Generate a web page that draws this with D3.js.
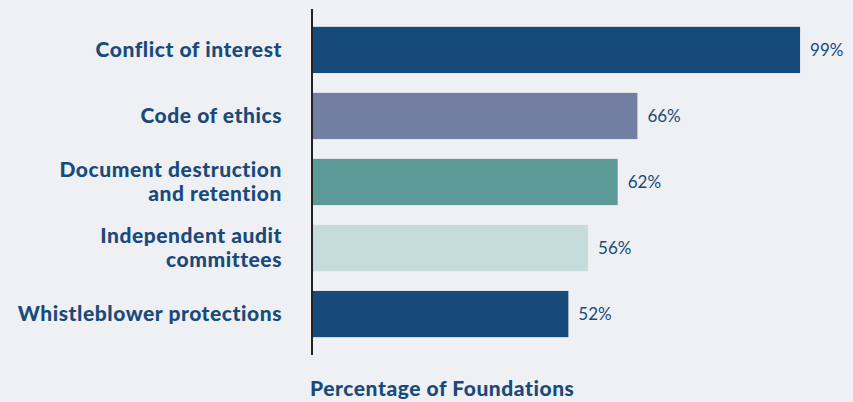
<!DOCTYPE html>
<html>
<head>
<meta charset="utf-8">
<script src="https://cdn.jsdelivr.net/npm/d3@7"></script>
<style>
  html, body { margin:0; padding:0; background:#eff0f4; }
  svg { display:block; font-family: Lato, "Open Sans", sans-serif; }
</style>
</head>
<body>
<svg id="chart" width="853" height="402"></svg>
<script>
var categories = [
  ["Conflict of interest"],
  ["Code of ethics"],
  ["Document destruction", "and retention"],
  ["Independent audit", "committees"],
  ["Whistleblower protections"]
];
var values = [99, 66, 62, 56, 52];
var colors = ["#164a7a", "#737ea3", "#5b9a96", "#c6dbdb", "#164a7a"];
var axisTitle = "Percentage of Foundations";

var svg = d3.select("#chart");
var textColor = "#1a4a7a";
var left = 312;

var x = d3.scaleLinear().domain([0, 100]).range([left, 805]);
var y = d3.scaleBand()
  .domain(d3.range(values.length))
  .range([9, 355])
  .paddingInner(0.3)
  .paddingOuter(0.27);

var rows = svg.append("g").selectAll("g")
  .data(values)
  .enter().append("g");

rows.append("rect")
  .attr("x", x(0))
  .attr("y", function(d, i) { return y(i); })
  .attr("width", function(d) { return x(d) - x(0); })
  .attr("height", y.bandwidth())
  .attr("fill", function(d, i) { return colors[i]; });

rows.append("text")
  .text(function(d) { return d + "%"; })
  .attr("x", function(d) { return x(d) + 10; })
  .attr("y", function(d, i) { return y(i) + y.bandwidth() / 2; })
  .attr("dy", "0.35em")
  .attr("font-size", "17px")
  .attr("fill", textColor);

//category labels, one or two lines
var labels = svg.append("g").selectAll("text")
  .data(categories)
  .enter().append("text")
  .attr("text-anchor", "end")
  .attr("font-size", "21px")
  .attr("font-weight", 900)
  .attr("letter-spacing", "0.55px")
  .attr("fill", textColor)
  .attr("transform", function(d, i) {
    return "translate(282," + (y(i) + y.bandwidth() / 2) + ")";
  });

labels.selectAll("tspan")
  .data(function(d) { return d; })
  .enter().append("tspan")
  .attr("x", 0)
  .attr("y", function(d, j, nodes) { return (j - (nodes.length - 1) / 2) * 24; })
  .attr("dy", "0.35em")
  .text(function(d) { return d; });

//axis line
svg.append("line")
  .attr("x1", left).attr("x2", left)
  .attr("y1", y.range()[0]).attr("y2", y.range()[1])
  .attr("stroke", "#222")
  .attr("stroke-width", 2);

svg.append("text")
  .text(axisTitle)
  .attr("x", 310)
  .attr("y", 396)
  .attr("font-size", "21px")
  .attr("font-weight", 900)
  .attr("letter-spacing", "0.55px")
  .attr("fill", textColor);
</script>
</body>
</html>
